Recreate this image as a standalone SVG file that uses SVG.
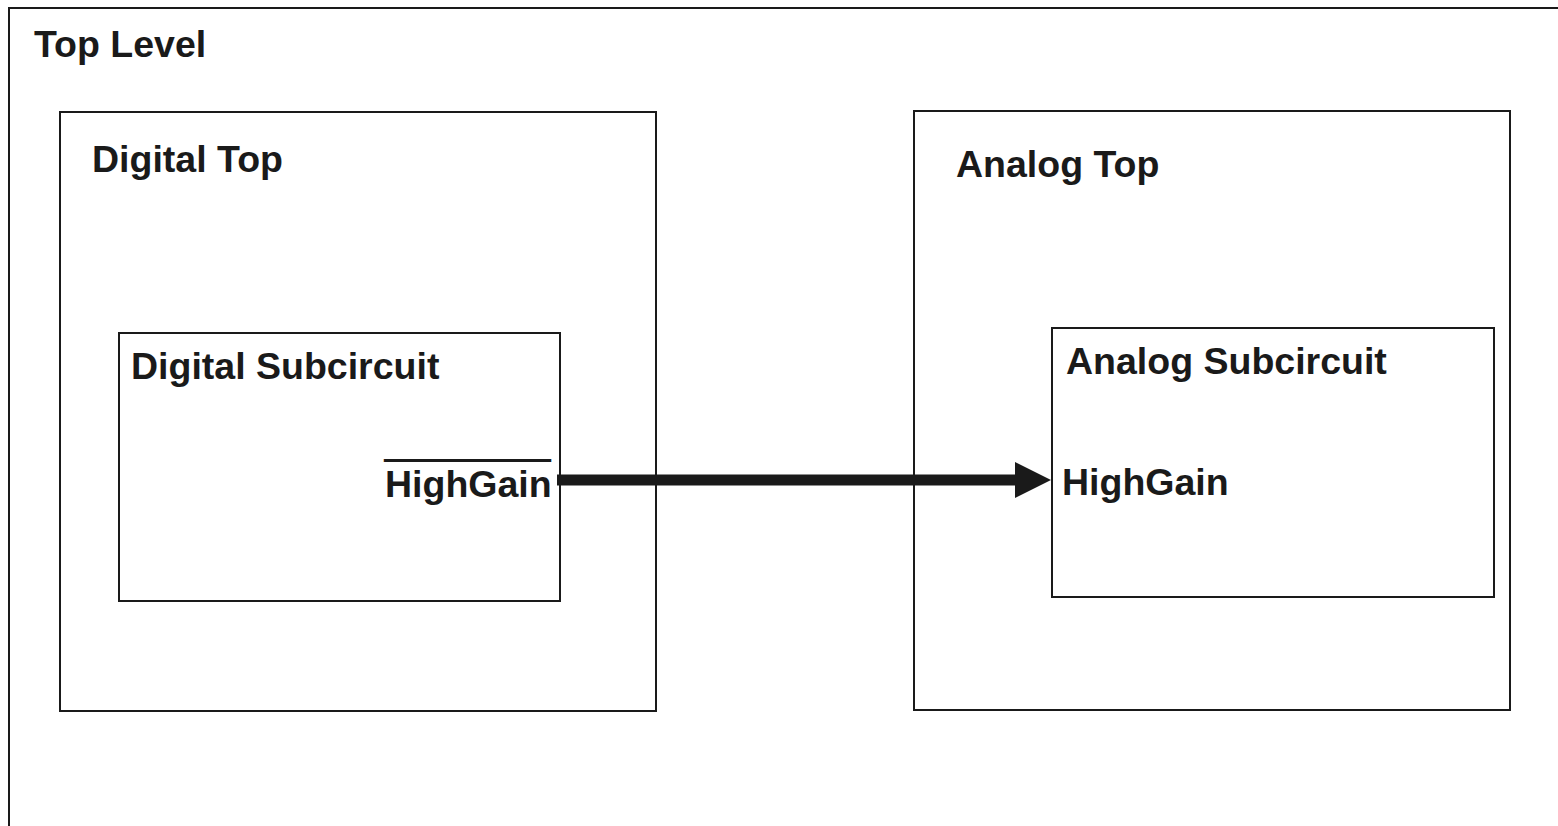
<svg xmlns="http://www.w3.org/2000/svg" width="1558" height="826" viewBox="0 0 1558 826">
<style>
.box{fill:none;stroke:#1a1a1a;stroke-width:2}
.lbl{font-family:"Liberation Sans",Arial,sans-serif;font-weight:bold;font-size:37.5px;fill:#1a1a1a}
.bar{stroke:#1a1a1a;stroke-width:1.6}
</style>
<defs>
<marker id="arr" markerUnits="userSpaceOnUse" markerWidth="36" markerHeight="36" refX="0" refY="18" orient="auto">
<path d="M0,0 L36,18 L0,36 Z" fill="#1a1a1a"/>
</marker>
</defs>
<rect width="1558" height="826" fill="#fff"/>
<g id="top-level">
<rect class="box" x="9" y="8" width="1560" height="830"/>
<text class="lbl" x="34" y="57">Top Level</text>
</g>
<g id="digital-top">
<rect class="box" x="60" y="112" width="596" height="599"/>
<text class="lbl" x="92" y="172">Digital Top</text>
</g>
<g id="analog-top">
<rect class="box" x="914" y="111" width="596" height="599"/>
<text class="lbl" x="956" y="177">Analog Top</text>
</g>
<g id="digital-sub">
<rect class="box" x="119" y="333" width="441" height="268"/>
<text class="lbl" x="131" y="379">Digital Subcircuit</text>
<text class="lbl bar" x="385" y="457" textLength="165">________</text>
<text class="lbl" x="385" y="497">HighGain</text>
</g>
<g id="analog-sub">
<rect class="box" x="1052" y="328" width="442" height="269"/>
<text class="lbl" x="1066" y="374">Analog Subcircuit</text>
<text class="lbl" x="1062" y="495">HighGain</text>
</g>
<g id="connectors">
<line x1="557" y1="480" x2="1015" y2="480" stroke="#1a1a1a" stroke-width="11" marker-end="url(#arr)"/>
</g>
</svg>
